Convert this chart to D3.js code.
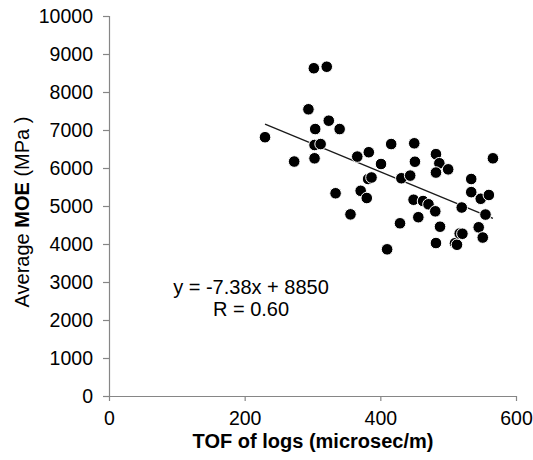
<!DOCTYPE html>
<html>
<head>
<meta charset="utf-8">
<script src="https://cdn.jsdelivr.net/npm/d3@7"></script>
<style>
	body { margin: 0; background: #fff; }
	svg text { font-family: Arial, "Liberation Sans", sans-serif; fill: #000; }
</style>
</head>
<body>
<div id="chart"></div>
<script>
let CHART_WIDTH = 533;
let CHART_HEIGHT = 460;

// TOF of logs (microsec/m)
var tof = [230, 273, 294, 302, 321, 324, 304, 303, 312, 303, 340, 334, 366, 383, 356, 371, 380, 401, 382, 387,
	410, 416, 429, 431, 444, 449, 463, 471, 450, 451, 456, 482, 487, 500, 482, 481, 488, 482, 510, 513,
	517, 521, 520, 534, 534, 548, 560, 555, 545, 551, 566];
// Average MOE (MPa)
var moe = [6810, 6170, 7545, 8625, 8665, 7245, 7025, 6605, 6630, 6255, 7025, 5335, 6300, 6415, 4780, 5400, 5210, 6105, 5710, 5750,
	3860, 6630, 4545, 5730, 5800, 5165, 5130, 5045, 6650, 6165, 4705, 6365, 6125, 5965, 5880, 4860, 4455, 4025, 4020, 3980,
	4275, 4270, 4960, 5710, 5365, 5190, 5290, 4775, 4440, 4170, 6255];

var xTicks = [0, 200, 400, 600];
var yTicks = [0, 1000, 2000, 3000, 4000, 5000, 6000, 7000, 8000, 9000, 10000];

// linear trend shown on the chart
var slope = -7.38;
var intercept = 8850;
var eqLines = ["y = -7.38x + 8850", "R = 0.60"];

var data = tof.map(function (t, i) { return { x: t, y: moe[i] }; });

var margin = { left: 109, right: 17, top: 16, bottom: 64 };
var w = CHART_WIDTH - margin.left - margin.right;
var h = CHART_HEIGHT - margin.top - margin.bottom;

var svg = d3.select("#chart").append("svg")
	.attr("width", CHART_WIDTH)
	.attr("height", CHART_HEIGHT);

var g = svg.append("g").attr("transform", "translate(" + margin.left + "," + margin.top + ")");

var xScale = d3.scaleLinear().domain([0, 600]).range([0, w]);
var yScale = d3.scaleLinear().domain([0, 10000]).range([h, 0]);

var axisColor = "#868686";

// y axis
var yAxis = g.append("g")
	.call(d3.axisLeft(yScale).tickValues(yTicks).tickSize(6).tickPadding(10).tickFormat(d3.format("d")));
// x axis
var xAxis = g.append("g")
	.attr("transform", "translate(0," + h + ")")
	.call(d3.axisBottom(xScale).tickValues(xTicks).tickSize(5).tickPadding(10).tickFormat(d3.format("d")));

[xAxis, yAxis].forEach(function (a) {
	a.select(".domain").attr("stroke", axisColor).attr("stroke-width", 1.2);
	a.selectAll(".tick line").attr("stroke", axisColor).attr("stroke-width", 1.2);
	a.selectAll(".tick text").style("font-size", "19.5px").attr("fill", "#000");
});
// no end stub on the domain paths
yAxis.select(".domain").attr("d", "M0.5," + yScale(10000) + "V" + yScale(0));
xAxis.select(".domain").attr("d", "M" + xScale(0) + ",0.5H" + xScale(600));

// trend line over the data range
var xExt = d3.extent(tof);
g.append("line")
	.attr("x1", xScale(xExt[0])).attr("y1", yScale(slope * xExt[0] + intercept))
	.attr("x2", xScale(xExt[1])).attr("y2", yScale(slope * xExt[1] + intercept))
	.attr("stroke", "#1a1a1a")
	.attr("stroke-width", 1.3);

g.selectAll(".dot")
	.data(data)
	.enter().append("circle")
	.attr("class", "dot")
	.attr("cx", function (d) { return xScale(d.x); })
	.attr("cy", function (d) { return yScale(d.y); })
	.attr("r", 5.8)
	.style("fill", "#000")
	.style("stroke", "#fff")
	.style("stroke-width", 1);

// equation text
svg.selectAll(".eq")
	.data(eqLines)
	.enter().append("text")
	.attr("class", "eq")
	.attr("x", 251)
	.attr("y", function (d, i) { return 294 + i * 22; })
	.attr("text-anchor", "middle")
	.style("font-size", "20px")
	.text(function (d) { return d; });

// axis titles
svg.append("text")
	.attr("x", 313)
	.attr("y", 448)
	.attr("text-anchor", "middle")
	.style("font-size", "20px")
	.style("font-weight", "bold")
	.text("TOF of logs (microsec/m)");

var yTitle = svg.append("text")
	.attr("transform", "translate(29,212) rotate(-90)")
	.attr("text-anchor", "middle")
	.style("font-size", "20px");
yTitle.append("tspan").text("Average ");
yTitle.append("tspan").style("font-weight", "bold").text("MOE");
yTitle.append("tspan").text(" (MPa )");
</script>
</body>
</html>
